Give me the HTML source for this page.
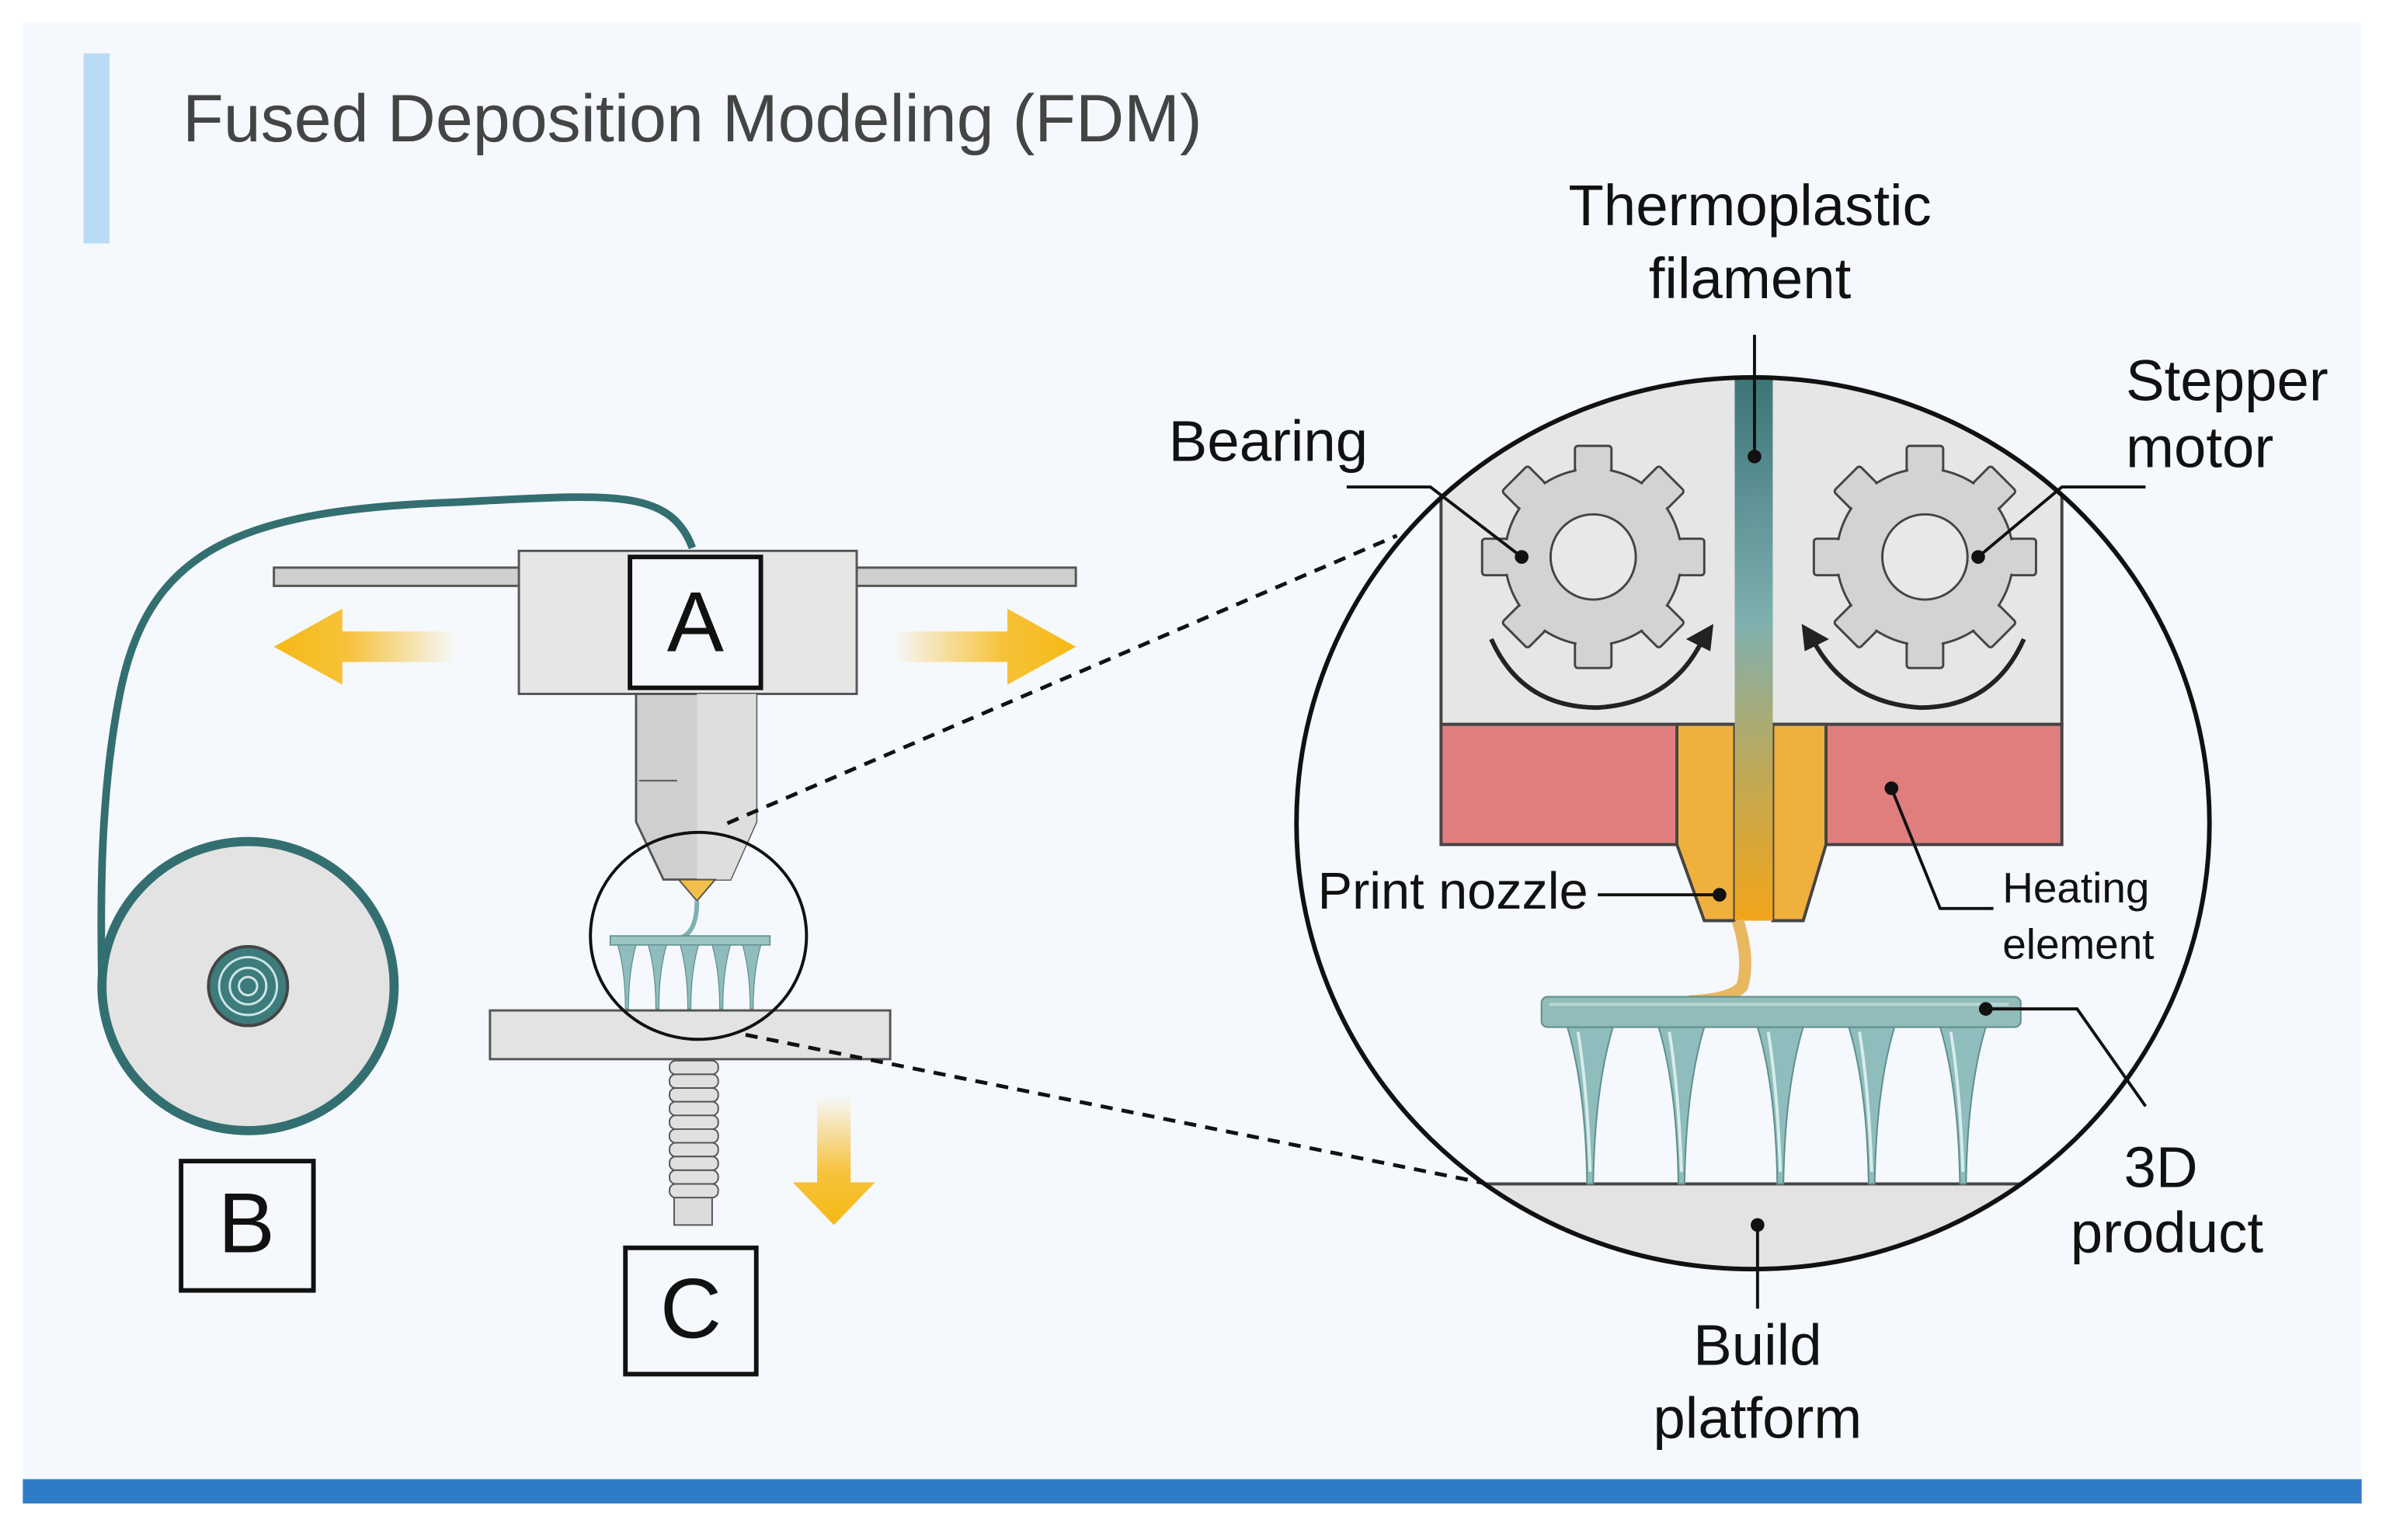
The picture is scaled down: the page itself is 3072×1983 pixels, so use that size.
<!DOCTYPE html>
<html><head><meta charset="utf-8"><style>
html,body{margin:0;padding:0;background:#fff}
svg{display:block}
text{font-family:"Liberation Sans",sans-serif}
</style></head><body>
<svg width="3072" height="1983" viewBox="0 0 1568 1012" preserveAspectRatio="none" xmlns="http://www.w3.org/2000/svg">
<defs>
<linearGradient id="fil" x1="0" y1="0" x2="0" y2="1">
<stop offset="0" stop-color="#3d7478"/><stop offset="0.45" stop-color="#7fb0b0"/><stop offset="0.75" stop-color="#c4a850"/><stop offset="1" stop-color="#f2a51a"/></linearGradient>
<linearGradient id="al" x1="0" y1="0" x2="1" y2="0"><stop offset="0" stop-color="#f5b914"/><stop offset="0.4" stop-color="#f7c23a"/><stop offset="1" stop-color="#f7c23a" stop-opacity="0"/></linearGradient>
<linearGradient id="ar" x1="1" y1="0" x2="0" y2="0"><stop offset="0" stop-color="#f5b914"/><stop offset="0.4" stop-color="#f7c23a"/><stop offset="1" stop-color="#f7c23a" stop-opacity="0"/></linearGradient>
<linearGradient id="ad" x1="0" y1="1" x2="0" y2="0"><stop offset="0" stop-color="#f5b914"/><stop offset="0.4" stop-color="#f7c23a"/><stop offset="1" stop-color="#f7c23a" stop-opacity="0"/></linearGradient>
<clipPath id="cc"><ellipse cx="1152" cy="541" rx="300" ry="293"/></clipPath>
<g id="gear">
<g fill="#d4d3d3" stroke="#444" stroke-width="1.5">
<rect x="-12" y="-73" width="24" height="30" rx="2"/><rect x="-12" y="-73" width="24" height="30" rx="2" transform="rotate(45)"/><rect x="-12" y="-73" width="24" height="30" rx="2" transform="rotate(90)"/><rect x="-12" y="-73" width="24" height="30" rx="2" transform="rotate(135)"/><rect x="-12" y="-73" width="24" height="30" rx="2" transform="rotate(180)"/><rect x="-12" y="-73" width="24" height="30" rx="2" transform="rotate(225)"/><rect x="-12" y="-73" width="24" height="30" rx="2" transform="rotate(270)"/><rect x="-12" y="-73" width="24" height="30" rx="2" transform="rotate(315)"/>
<circle r="58"/></g>
<g fill="#d4d3d3">
<rect x="-11" y="-61" width="22" height="10"/><rect x="-11" y="-61" width="22" height="10" transform="rotate(45)"/><rect x="-11" y="-61" width="22" height="10" transform="rotate(90)"/><rect x="-11" y="-61" width="22" height="10" transform="rotate(135)"/><rect x="-11" y="-61" width="22" height="10" transform="rotate(180)"/><rect x="-11" y="-61" width="22" height="10" transform="rotate(225)"/><rect x="-11" y="-61" width="22" height="10" transform="rotate(270)"/><rect x="-11" y="-61" width="22" height="10" transform="rotate(315)"/></g>
<circle r="28" fill="#e8e8e8" stroke="#444" stroke-width="1.5"/>
</g>
<g id="spike"><path d="M-15 0 Q-3 40 -2 103 L2 103 Q3 40 15 0 Z" fill="#8fbcbc" stroke="#5d8e8e" stroke-width="1"/><path d="M-8 3 Q-2 40 0 95" fill="none" stroke="#d8ecec" stroke-width="2"/></g>
<g id="sspike"><path d="M-6 0 Q-1 18 -1 42 L1 42 Q1 18 6 0 Z" fill="#8fbcbc" stroke="#5d8e8e" stroke-width="0.6"/></g>
</defs>
<rect width="1568" height="1012" fill="#fff"/>
<rect x="15" y="15" width="1537" height="973" fill="#f5f8fc"/>
<rect x="15" y="972" width="1537" height="16" fill="#2f7cc6"/>
<rect x="55" y="35" width="17" height="125" fill="#b8dcf5"/>
<text x="120" y="93" font-size="44" fill="#444">Fused Deposition Modeling (FDM)</text>

<!-- left printer -->
<path d="M455 360 C440 320 400 325 300 330 C160 335 100 360 80 450 C65 520 66 600 67 648" fill="none" stroke="#336f70" stroke-width="5"/>
<ellipse cx="163" cy="648" rx="96" ry="95" fill="#e3e3e3" stroke="#336f70" stroke-width="6"/>
<circle cx="163" cy="648" r="26" fill="#3d7b7c" stroke="#444" stroke-width="2"/>
<circle cx="163" cy="648" r="19" fill="none" stroke="#cfe5e5" stroke-width="1.5"/>
<circle cx="163" cy="648" r="12" fill="none" stroke="#cfe5e5" stroke-width="1.5"/>
<circle cx="163" cy="648" r="6" fill="none" stroke="#cfe5e5" stroke-width="1.5"/>
<rect x="180" y="373" width="527" height="12" fill="#cfcfcf" stroke="#555" stroke-width="1.5"/>
<rect x="341" y="362" width="222" height="94" fill="#e6e6e6" stroke="#555" stroke-width="1.5"/>
<rect x="414" y="366" width="86" height="86" fill="#f5f8fc" stroke="#111" stroke-width="3"/>
<text x="457" y="428" font-size="56" text-anchor="middle" fill="#111">A</text>
<path d="M180 425 L225 400 L225 415 L300 415 L300 435 L225 435 L225 450 Z" fill="url(#al)"/>
<path d="M707 425 L662 400 L662 415 L587 415 L587 435 L662 435 L662 450 Z" fill="url(#ar)"/>
<path d="M418 456 L497 456 L497 540 L480 578 L436 578 L418 540 Z" fill="#cfcfcf" stroke="#555" stroke-width="1.5"/>
<path d="M458 456 L497 456 L497 540 L480 578 L458 578 Z" fill="#dedede"/>
<line x1="420" y1="513" x2="445" y2="513" stroke="#555" stroke-width="1"/>
<path d="M446 578 L470 578 L458 592 Z" fill="#f2c04a" stroke="#555" stroke-width="1"/>
<path d="M458 592 Q458 612 448 616" fill="none" stroke="#7fb0b0" stroke-width="3"/>
<rect x="401" y="615" width="105" height="6" fill="#9cc4c2" stroke="#5d8e8e" stroke-width="0.8"/>
<use href="#sspike" x="412" y="621"/><use href="#sspike" x="432" y="621"/><use href="#sspike" x="453" y="621"/><use href="#sspike" x="474" y="621"/><use href="#sspike" x="494" y="621"/>
<rect x="322" y="664" width="263" height="32" fill="#e3e3e3" stroke="#555" stroke-width="1.5"/>
<ellipse cx="459" cy="615" rx="71" ry="68" fill="none" stroke="#111" stroke-width="2"/>
<rect x="443" y="785" width="25" height="20" fill="#dcdcdc" stroke="#555" stroke-width="1"/>
<g fill="#e0e0e0" stroke="#555" stroke-width="1">
<rect x="440" y="697" width="32" height="9" rx="4"/><rect x="440" y="706" width="32" height="9" rx="4"/><rect x="440" y="715" width="32" height="9" rx="4"/><rect x="440" y="724" width="32" height="9" rx="4"/><rect x="440" y="733" width="32" height="9" rx="4"/><rect x="440" y="742" width="32" height="9" rx="4"/><rect x="440" y="751" width="32" height="9" rx="4"/><rect x="440" y="760" width="32" height="9" rx="4"/><rect x="440" y="769" width="32" height="9" rx="4"/><rect x="440" y="778" width="32" height="9" rx="4"/></g>
<path d="M548 805 L521 777 L537 777 L537 720 L559 720 L559 777 L575 777 Z" fill="url(#ad)"/>
<rect x="119" y="763" width="87" height="85" fill="#f5f8fc" stroke="#111" stroke-width="3"/>
<text x="162" y="823" font-size="56" text-anchor="middle" fill="#111">B</text>
<rect x="411" y="820" width="86" height="83" fill="#f5f8fc" stroke="#111" stroke-width="3"/>
<text x="454" y="879" font-size="56" text-anchor="middle" fill="#111">C</text>
<line x1="478" y1="541" x2="918" y2="352" stroke="#111" stroke-width="2.5" stroke-dasharray="8,6"/>
<line x1="490" y1="680" x2="983" y2="779" stroke="#111" stroke-width="2.5" stroke-dasharray="8,6"/>

<!-- big circle -->
<ellipse cx="1152" cy="541" rx="300" ry="293" fill="#f5f8fc"/>
<g clip-path="url(#cc)">
<rect x="947" y="200" width="408" height="276" fill="#e6e6e6" stroke="#444" stroke-width="2"/>
<rect x="947" y="476" width="408" height="79" fill="#e07e7e" stroke="#444" stroke-width="2"/>
<rect x="940" y="778" width="420" height="80" fill="#e3e3e3" stroke="#444" stroke-width="2"/>
</g>
<path d="M1102 476 L1140 476 L1140 605 L1120 605 L1102 555 Z" fill="#f0b03e" stroke="#444" stroke-width="2"/>
<path d="M1165 476 L1200 476 L1200 555 L1185 605 L1165 605 Z" fill="#f0b03e" stroke="#444" stroke-width="2"/>
<rect x="1140" y="248" width="25" height="357" fill="url(#fil)"/>
<path d="M1142 605 Q1150 630 1145 648 Q1138 657 1110 658" fill="none" stroke="#e8b860" stroke-width="8"/>
<use href="#spike" x="1045" y="675"/><use href="#spike" x="1105" y="675"/><use href="#spike" x="1170" y="675"/><use href="#spike" x="1230" y="675"/><use href="#spike" x="1290" y="675"/>
<rect x="1013" y="655" width="315" height="20" rx="4" fill="#92bcb9" stroke="#5d8e8e" stroke-width="1"/>
<line x1="1018" y1="660" x2="1320" y2="660" stroke="#b8d6d4" stroke-width="2"/>
<use href="#gear" x="1047" y="366"/>
<use href="#gear" x="1265" y="366"/>
<path d="M980 420 Q1000 465 1050 465 Q1100 462 1120 418" fill="none" stroke="#222" stroke-width="3"/>
<path d="M1126 410 L1108 420 L1124 428 Z" fill="#222"/>
<path d="M1330 420 Q1310 465 1262 465 Q1212 462 1190 418" fill="none" stroke="#222" stroke-width="3"/>
<path d="M1184 410 L1202 420 L1186 428 Z" fill="#222"/>
<ellipse cx="1152" cy="541" rx="300" ry="293" fill="none" stroke="#111" stroke-width="3"/>

<!-- labels -->
<g fill="#111" font-size="38">
<text x="1150" y="148" text-anchor="middle">Thermoplastic</text>
<text x="1150" y="196" text-anchor="middle">filament</text>
<text x="768" y="303">Bearing</text>
<text x="1397" y="263">Stepper</text>
<text x="1397" y="307">motor</text>
<text x="866" y="597" font-size="34">Print nozzle</text>
<text x="1316" y="593" font-size="28">Heating</text>
<text x="1316" y="630" font-size="28">element</text>
<text x="1420" y="780" text-anchor="middle">3D</text>
<text x="1424" y="823" text-anchor="middle">product</text>
<text x="1155" y="897" text-anchor="middle">Build</text>
<text x="1155" y="945" text-anchor="middle">platform</text>
</g>
<g fill="none" stroke="#111" stroke-width="2">
<path d="M1153 220 L1153 300"/>
<path d="M885 320 L940 320 L1000 366"/>
<path d="M1410 320 L1355 320 L1300 366"/>
<path d="M1050 588 L1130 588"/>
<path d="M1310 597 L1275 597 L1243 518"/>
<path d="M1305 663 L1365 663 L1410 727"/>
<path d="M1155 805 L1155 860"/>
</g>
<g fill="#111">
<circle cx="1153" cy="300" r="4.5"/><circle cx="1000" cy="366" r="4.5"/><circle cx="1300" cy="366" r="4.5"/><circle cx="1130" cy="588" r="4.5"/><circle cx="1243" cy="518" r="4.5"/><circle cx="1305" cy="663" r="4.5"/><circle cx="1155" cy="805" r="4.5"/>
</g>
</svg>
</body></html>
